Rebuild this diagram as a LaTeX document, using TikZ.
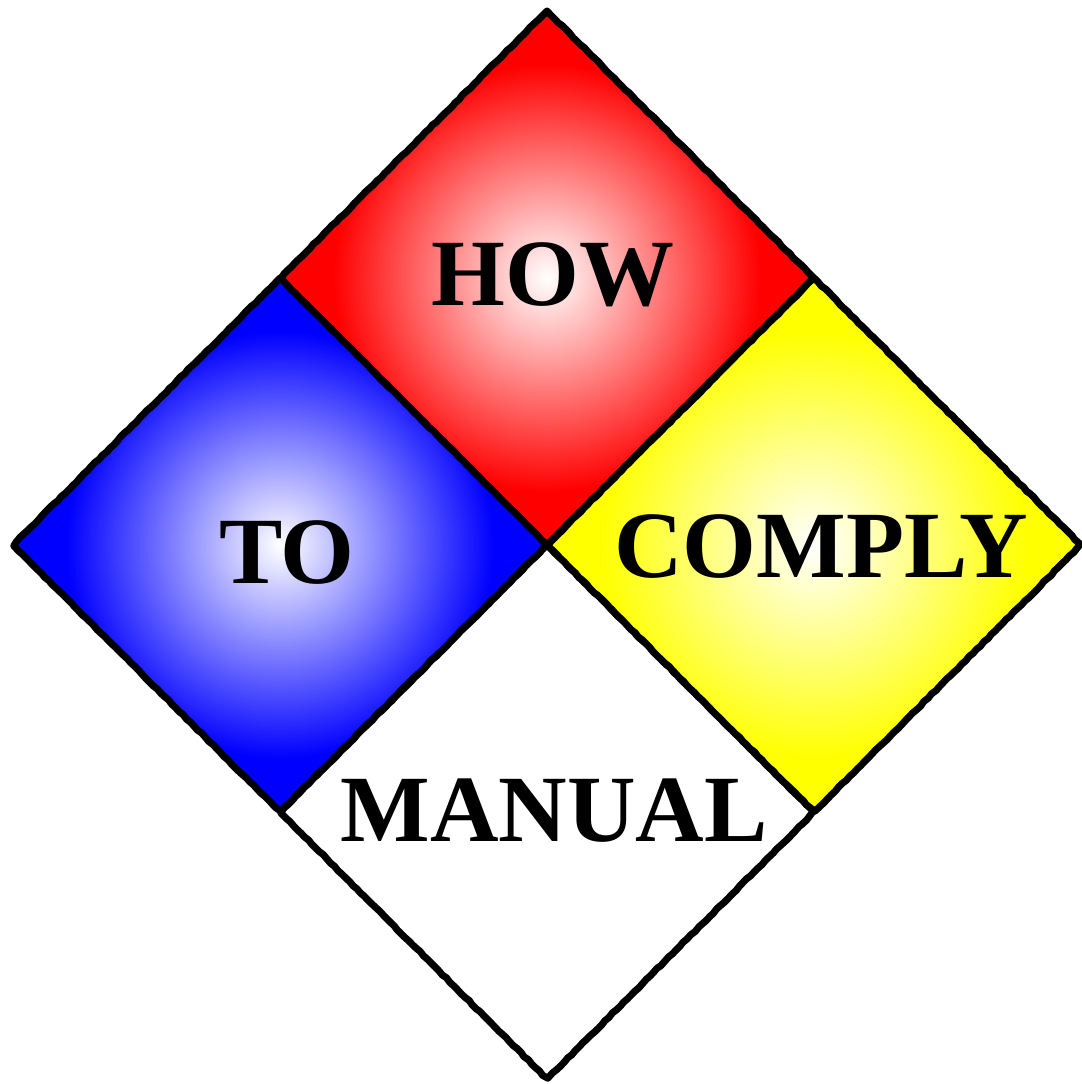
\documentclass[tikz,border=0pt]{standalone}
\usepackage{fontspec}
\setmainfont{Liberation Serif}
\usetikzlibrary{decorations.pathmorphing}
% glow shadings: white centre, full colour towards the corners
\pgfdeclareradialshading{redglow}{\pgfpoint{0bp}{0bp}}{color(0bp)=(white);color(20bp)=(red);color(50bp)=(red)}
\pgfdeclareradialshading{blueglow}{\pgfpoint{0bp}{0bp}}{color(0bp)=(white);color(20bp)=(blue);color(50bp)=(blue)}
\pgfdeclareradialshading{yellowglow}{\pgfpoint{0bp}{0bp}}{color(0bp)=(white);color(20bp)=(yellow);color(50bp)=(yellow)}
\tikzset{
  roughedge/.style={draw=black,line width=2pt,line join=round,
    decorate,decoration={random steps,segment length=1.5pt,amplitude=0.15pt}},
  hazard/.style={font=\fontsize{27}{30}\selectfont\bfseries,inner sep=0pt}
}
\begin{document}
\begin{tikzpicture}[x=0.01cm,y=-0.01cm]
    \useasboundingbox (0,0) rectangle (1082,1084);
    \pgfmathsetseed{7}
    % white square at the bottom
    \path[fill=white,roughedge] (547,545)--++(267,267)--++(-267,267)--++(-267,-267)--cycle;
    % three shaded squares
    \foreach \cx/\cy/\glow in {547/278/redglow,280/545/blueglow,814/545/yellowglow}{
        \path[shade,shading=\glow,roughedge] (\cx,\cy)++(0,-267)--++(267,267)--++(-267,267)--++(-267,-267)--cycle;
    }
    \node[hazard] (how) at (553,275) {HOW};
    \node[hazard] (to) at (287,553) {TO};
    \node[hazard] (comply) at (821,547) {COMPLY};
    \node[hazard] (manual) at (554,811) {MANUAL};
\end{tikzpicture}
\end{document}
